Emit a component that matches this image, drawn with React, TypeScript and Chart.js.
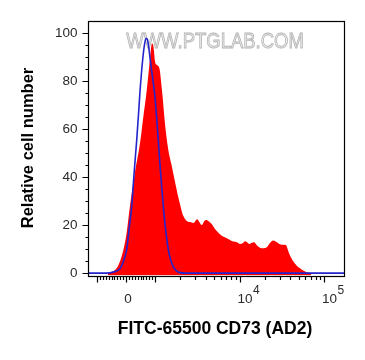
import React, { useEffect, useRef } from "react";
import { Chart, registerables } from "chart.js";

Chart.register(...registerables);

// ---- data (x in display channels 0..1024, y in relative cell number) ----
const sampleChannels = [80, 104, 120, 140, 155, 168, 188, 208, 220, 235, 248, 256, 262, 268, 276, 286, 296, 308, 320, 334, 348, 360, 372, 380, 395, 408, 421, 437, 444, 455, 464, 472, 484, 495, 508, 520, 535, 555, 568, 581, 596, 608, 620, 628, 636, 645, 656, 664, 676, 688, 700, 715, 728, 741, 752, 768, 780, 792, 800, 808, 820, 835, 848, 861, 876, 892];
const sampleCounts = [0, 1, 3, 9, 17, 28, 42, 54, 64, 76, 89, 95.5, 94, 88, 86.5, 85, 76, 62, 52, 45, 38, 32, 27, 24, 21.7, 21.2, 20.8, 22.4, 21.5, 20, 21.5, 22.1, 21.5, 20.4, 18.3, 17, 15.5, 14.5, 13.8, 13.1, 12.8, 12.1, 12.5, 13.2, 12.8, 12.1, 12.6, 12.8, 11.5, 10.5, 10.3, 10.7, 12.5, 13.5, 13, 12, 11.8, 11.7, 9.5, 7.3, 5, 3.1, 2, 1.1, 0.4, 0];

const controlChannels = [0, 72, 104, 120, 128, 140, 155, 164, 175, 184, 195, 202, 208, 219, 226, 232, 238, 244, 252, 260, 268, 275, 281, 290, 301, 310, 321, 332, 342, 355, 368, 392, 1024];
const controlCounts = [0, 0, 0.5, 1.2, 1.8, 4.5, 10, 18, 28, 41, 55.5, 66, 75.5, 89, 95, 97.6, 97, 93, 86, 80, 73, 64, 55.5, 42, 28, 18.5, 10, 5, 2.5, 0.8, 0.2, 0, 0];

const yMajorTicks = [0, 20, 40, 60, 80, 100];
const yMinorTicks = [5, 10, 15, 25, 30, 35, 45, 50, 55, 65, 70, 75, 85, 90, 95];
const xMajorTicks = [-1000, 0, 1000, 10000, 100000];
const xMinorTicks = [-900, -800, -700, -600, -500, -400, -300, -200, -100, 100, 200, 300, 400, 500, 600, 700, 800, 900, 2000, 3000, 4000, 5000, 6000, 7000, 8000, 9000, 20000, 30000, 40000, 50000, 60000, 70000, 80000, 90000];
const xTickLabels = [
  { value: 0, base: "0", exp: "" },
  { value: 10000, base: "10", exp: "4" },
  { value: 100000, base: "10", exp: "5" },
];
const xTitle = "FITC-65500 CD73 (AD2)";
const yTitle = "Relative cell number";
const watermark = "WWW.PTGLAB.COM";

// biexponential-like display transform: value -> channel
function toChannel(v: number): number {
  const zero = 152;
  const lin = 116;
  const decade = 338;
  const a = Math.abs(v);
  const s = v < 0 ? -1 : 1;
  if (a <= 1000) return zero + (lin * v) / 1000;
  return zero + s * (lin + decade * Math.log10(a / 1000));
}

const FONT = "'Liberation Sans', Arial, Helvetica, sans-serif";

const flowPlugin = {
  id: "flowAxes",
  beforeDatasetsDraw(chart: any) {
    const ctx = chart.ctx;
    const area = chart.chartArea;
    ctx.save();
    ctx.font = `22px ${FONT}`;
    ctx.textAlign = "center";
    ctx.textBaseline = "middle";
    const cx = (area.left + area.right) / 2 - 1;
    ctx.translate(cx, 42);
    ctx.scale(0.84, 1);
    ctx.fillStyle = "#ececec";
    ctx.fillText(watermark, 0, 0);
    ctx.strokeStyle = "#b4b4b4";
    ctx.lineWidth = 0.9;
    ctx.strokeText(watermark, 0, 0);
    ctx.restore();
  },
  afterDraw(chart: any) {
    const ctx = chart.ctx;
    const area = chart.chartArea;
    const xs = chart.scales.x;
    const ys = chart.scales.y;
    ctx.save();
    // frame
    ctx.strokeStyle = "#000";
    ctx.lineWidth = 1.2;
    ctx.strokeRect(Math.round(area.left) + 0.5, Math.round(area.top) + 0.5, Math.round(area.right - area.left), Math.round(area.bottom - area.top));
    // y ticks
    const lx = Math.round(area.left) + 0.5;
    ctx.lineWidth = 1.2;
    ctx.beginPath();
    yMajorTicks.forEach((v) => {
      const y = Math.round(ys.getPixelForValue(v)) + 0.5;
      ctx.moveTo(lx - 6, y);
      ctx.lineTo(lx, y);
    });
    yMinorTicks.forEach((v) => {
      const y = Math.round(ys.getPixelForValue(v)) + 0.5;
      ctx.moveTo(lx - 3, y);
      ctx.lineTo(lx, y);
    });
    // x ticks
    const by = Math.round(area.bottom) + 0.5;
    xMajorTicks.forEach((v) => {
      const x = Math.round(xs.getPixelForValue(toChannel(v))) + 0.5;
      ctx.moveTo(x, by);
      ctx.lineTo(x, by + 6);
    });
    xMinorTicks.forEach((v) => {
      const x = Math.round(xs.getPixelForValue(toChannel(v))) + 0.5;
      ctx.moveTo(x, by);
      ctx.lineTo(x, by + 3.5);
    });
    ctx.stroke();

    // y tick labels
    ctx.fillStyle = "#2a2a2a";
    ctx.font = `13.5px ${FONT}`;
    ctx.textAlign = "right";
    ctx.textBaseline = "middle";
    yMajorTicks.forEach((v) => {
      ctx.fillText(String(v), lx - 11, ys.getPixelForValue(v) + 0.5);
    });

    // x tick labels
    ctx.textBaseline = "alphabetic";
    xTickLabels.forEach((t) => {
      const x = xs.getPixelForValue(toChannel(t.value));
      ctx.font = `13.5px ${FONT}`;
      if (!t.exp) {
        ctx.textAlign = "center";
        ctx.fillText(t.base, x + 2, 303);
      } else {
        ctx.textAlign = "left";
        ctx.fillText(t.base, x - 2, 303);
        const w = ctx.measureText(t.base).width;
        ctx.font = `12px ${FONT}`;
        ctx.fillText(t.exp, x - 2 + w + 0.5, 294);
      }
    });

    // titles
    ctx.fillStyle = "#000";
    ctx.font = `bold 17.5px ${FONT}`;
    ctx.textAlign = "center";
    ctx.fillText(xTitle, 215, 334);
    ctx.save();
    ctx.translate(28, 148);
    ctx.rotate(-Math.PI / 2);
    ctx.font = `bold 16.5px ${FONT}`;
    ctx.textBaseline = "middle";
    ctx.fillText(yTitle, 0, 0);
    ctx.restore();
    ctx.restore();
  },
};

export default function App() {
  const canvasRef = useRef<HTMLCanvasElement | null>(null);

  useEffect(() => {
    const canvas = canvasRef.current;
    if (!canvas) return;
    const sample = sampleChannels.map((c, i) => ({ x: c, y: sampleCounts[i] }));
    const control = controlChannels.map((c, i) => ({ x: c, y: controlCounts[i] }));
    const chart = new Chart(canvas, {
      type: "line",
      data: {
        datasets: [
          {
            label: "control",
            data: control,
            borderColor: "rgb(36,36,205)",
            borderWidth: 1.6,
            pointRadius: 0,
            fill: false,
            cubicInterpolationMode: "monotone",
            order: 0,
          },
          {
            label: "CD73",
            data: sample,
            borderColor: "rgba(0,0,0,0)",
            borderWidth: 0,
            backgroundColor: "#ff0000",
            pointRadius: 0,
            fill: "start",
            cubicInterpolationMode: "monotone",
            order: 1,
          },
        ],
      },
      options: {
        responsive: false,
        animation: false,
        devicePixelRatio: 1,
        layout: { padding: { left: 88, top: 21, right: 21, bottom: 84.5 } },
        plugins: { legend: { display: false }, tooltip: { enabled: false } },
        scales: {
          x: { type: "linear", min: 0, max: 1024, display: false },
          y: { type: "linear", min: -1, max: 104.8, display: false },
        },
      },
      plugins: [flowPlugin],
    } as any);
    return () => chart.destroy();
  }, []);

  return (
    <div style={{ position: "absolute", left: 0, top: 0, width: 365, height: 360, background: "#fff" }}>
      <canvas ref={canvasRef} width={365} height={360} style={{ display: "block", width: 365, height: 360 }} />
    </div>
  );
}
